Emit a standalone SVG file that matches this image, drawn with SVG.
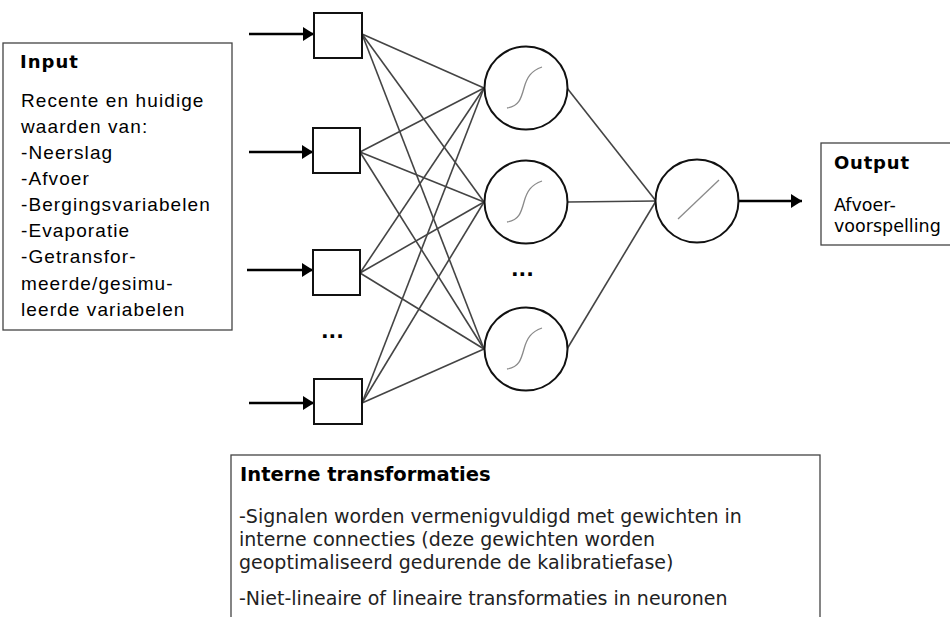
<svg xmlns="http://www.w3.org/2000/svg" width="950" height="617" viewBox="0 0 950 617">
<defs>
<style>
.box{fill:#fff;stroke:#444;stroke-width:1.3}
.sq{fill:#fff;stroke:#111;stroke-width:2}
.neuron{fill:#fff;stroke:#111;stroke-width:2}
.conn{stroke:#444;stroke-width:1.6;fill:none}
.arrow{stroke:#000;stroke-width:2.6;fill:none}
.fn{stroke:#8a8a8a;stroke-width:1.3;fill:none}
.title{font-family:"DejaVu Sans",Verdana,sans-serif;font-weight:bold;font-size:18px;fill:#000}
.itxt{font-family:"Liberation Sans",Arial,sans-serif;font-size:19px;letter-spacing:1.1px;fill:#000}
.otxt{font-family:"DejaVu Sans",Verdana,sans-serif;font-size:17.5px;fill:#000}
.btxt{font-family:"DejaVu Sans",Verdana,sans-serif;font-size:19px;fill:#222}
.dots{font-family:"DejaVu Sans",sans-serif;font-weight:bold;font-size:20px;fill:#000}
</style>
<marker id="ah" markerUnits="userSpaceOnUse" markerWidth="12" markerHeight="14" refX="11" refY="7" orient="auto">
<path d="M0,0 L11,7 L0,14 Z" fill="#000"/>
</marker>
</defs>

<g id="input-box">
<rect class="box" x="3" y="43" width="229" height="287"/>
<text class="title" x="20" y="68" letter-spacing="1">Input</text>
<text class="itxt" x="21" y="107">Recente en huidige</text>
<text class="itxt" x="21" y="133">waarden van:</text>
<text class="itxt" x="21" y="159">-Neerslag</text>
<text class="itxt" x="21" y="185">-Afvoer</text>
<text class="itxt" x="21" y="211">-Bergingsvariabelen</text>
<text class="itxt" x="21" y="237">-Evaporatie</text>
<text class="itxt" x="21" y="263">-Getransfor-</text>
<text class="itxt" x="21" y="290">meerde/gesimu-</text>
<text class="itxt" x="21" y="316">leerde variabelen</text>
</g>

<g id="connectors">
<line class="arrow" x1="249" y1="34" x2="314" y2="34" marker-end="url(#ah)"/>
<line class="arrow" x1="249" y1="152" x2="313" y2="152" marker-end="url(#ah)"/>
<line class="arrow" x1="247" y1="270" x2="313" y2="270" marker-end="url(#ah)"/>
<line class="arrow" x1="249" y1="403" x2="314" y2="403" marker-end="url(#ah)"/>
<line class="conn" x1="362" y1="34" x2="484" y2="88"/>
<line class="conn" x1="362" y1="34" x2="484" y2="202"/>
<line class="conn" x1="362" y1="34" x2="484" y2="349"/>
<line class="conn" x1="360" y1="152" x2="484" y2="88"/>
<line class="conn" x1="360" y1="152" x2="484" y2="202"/>
<line class="conn" x1="360" y1="152" x2="484" y2="349"/>
<line class="conn" x1="360" y1="273" x2="484" y2="88"/>
<line class="conn" x1="360" y1="273" x2="484" y2="202"/>
<line class="conn" x1="360" y1="273" x2="484" y2="349"/>
<line class="conn" x1="362" y1="403" x2="484" y2="88"/>
<line class="conn" x1="362" y1="403" x2="484" y2="202"/>
<line class="conn" x1="362" y1="403" x2="484" y2="349"/>
<line class="conn" x1="567" y1="88" x2="656" y2="201"/>
<line class="conn" x1="568" y1="202" x2="656" y2="201"/>
<line class="conn" x1="567" y1="349" x2="656" y2="201"/>
<line class="arrow" x1="738" y1="201" x2="802" y2="201" marker-end="url(#ah)"/>
</g>

<g id="input-1"><rect class="sq" x="314" y="13" width="48" height="45"/></g>
<g id="input-2"><rect class="sq" x="313" y="128" width="47" height="45"/></g>
<g id="input-3"><rect class="sq" x="313" y="250" width="47" height="45"/></g>
<g id="input-4"><rect class="sq" x="314" y="379" width="48" height="45"/></g>
<g id="input-dots"><text class="dots" x="321" y="338">...</text></g>

<g id="hidden-1">
<circle class="neuron" cx="526" cy="88" r="41.5"/>
<path class="fn" d="M507,108 C519,106 521,99 524,88 C527,77 531,71 542,67"/>
</g>
<g id="hidden-2">
<circle class="neuron" cx="526" cy="202" r="41.5"/>
<path class="fn" d="M507,222 C519,220 521,213 524,202 C527,191 531,185 542,181"/>
</g>
<g id="hidden-3">
<circle class="neuron" cx="526" cy="349" r="41.5"/>
<path class="fn" d="M507,369 C519,367 521,360 524,349 C527,338 531,332 542,328"/>
</g>
<g id="hidden-dots"><text class="dots" x="511" y="276">...</text></g>

<g id="output-neuron">
<circle class="neuron" cx="697" cy="201" r="41.5"/>
<line class="fn" x1="678" y1="219" x2="719" y2="180"/>
</g>

<g id="output-box">
<rect class="box" x="821" y="143" width="140" height="102"/>
<text class="title" x="834" y="169" letter-spacing="0.8">Output</text>
<text class="otxt" x="834" y="211">Afvoer-</text>
<text class="otxt" x="834" y="232">voorspelling</text>
</g>

<g id="internal-box">
<rect class="box" x="231" y="455" width="589" height="190"/>
<text class="title" x="240" y="481" style="font-size:19.5px">Interne transformaties</text>
<text class="btxt" x="239" y="523">-Signalen worden vermenigvuldigd met gewichten in</text>
<text class="btxt" x="239" y="546">interne connecties (deze gewichten worden</text>
<text class="btxt" x="239" y="569">geoptimaliseerd gedurende de kalibratiefase)</text>
<text class="btxt" x="239" y="605">-Niet-lineaire of lineaire transformaties in neuronen</text>
</g>
</svg>
